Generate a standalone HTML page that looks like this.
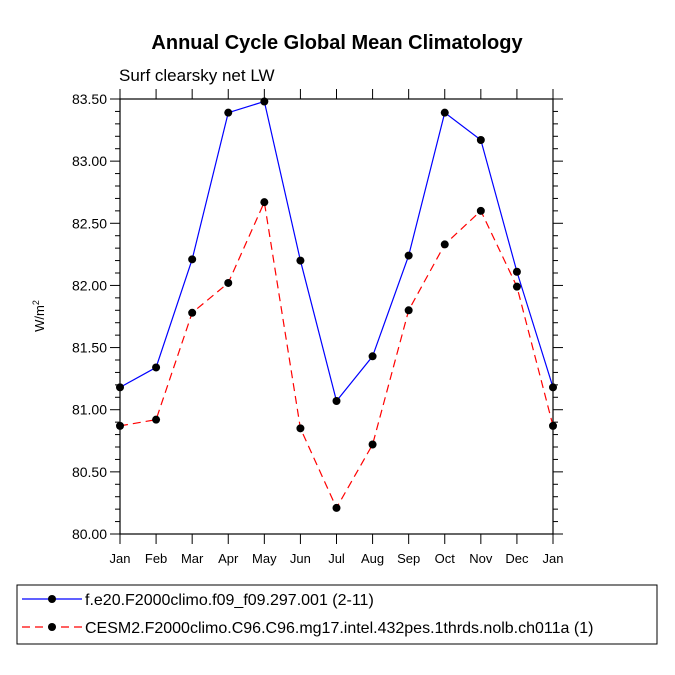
<!DOCTYPE html>
<html><head><meta charset="utf-8"><style>body{margin:0;background:#fff}svg{display:block}text{font-family:"Liberation Sans",Arial,sans-serif}</style></head>
<body>
<svg id="c" width="675" height="675">
<text x="337" y="49" text-anchor="middle" font-size="20" font-weight="bold">Annual Cycle Global Mean Climatology</text>
<text x="119" y="81" font-size="17">Surf clearsky net LW</text>
<text transform="translate(44,316) rotate(-90)" text-anchor="middle" font-size="13">W/m<tspan dy="-5" font-size="9">2</tspan></text>
<g id="axes"></g><g id="series"></g>
<rect x="17" y="585" width="640" height="59" fill="none" stroke="#000" stroke-width="1"/>
<g id="legend"></g>
</svg>
<script>
const months=["Jan","Feb","Mar","Apr","May","Jun","Jul","Aug","Sep","Oct","Nov","Dec","Jan"];
const seriesA=[81.18,81.34,82.21,83.39,83.48,82.20,81.07,81.43,82.24,83.39,83.17,82.11,81.18];
const seriesB=[80.87,80.92,81.78,82.02,82.67,80.85,80.21,80.72,81.80,82.33,82.60,81.99,80.87];
const yTicks=[80.00,80.50,81.00,81.50,82.00,82.50,83.00,83.50];
const legendLabels=["f.e20.F2000climo.f09_f09.297.001 (2-11)","CESM2.F2000climo.C96.C96.mg17.intel.432pes.1thrds.nolb.ch011a (1)"];
const L=120,R=553,T=99,B=534,ymin=80,ymax=83.5;
const xs=i=>L+i*(R-L)/12, ys=v=>B-(v-ymin)/(ymax-ymin)*(B-T);
const NS="http://www.w3.org/2000/svg";
function mk(t,a,p){const e=document.createElementNS(NS,t);for(const k in a)e.setAttribute(k,a[k]);p.appendChild(e);return e;}
const ax=document.getElementById('axes');
const frame=mk('rect',{x:L,y:T,width:R-L,height:B-T,fill:'none',stroke:'#000','stroke-width':1.2},ax);


yTicks.forEach(v=>{const y=ys(v);
mk('line',{x1:L,x2:L-10,y1:y,y2:y,stroke:'#000'},ax);mk('line',{x1:R,x2:R+10,y1:y,y2:y,stroke:'#000'},ax);
const t=mk('text',{x:L-13,y:y+5,'text-anchor':'end','font-size':14},ax);t.textContent=v.toFixed(2);

});
for(let i=0;i<yTicks.length-1;i++)for(let k=1;k<5;k++){const y=ys(yTicks[i]+k*0.1);mk('line',{x1:L,x2:L-5,y1:y,y2:y,stroke:'#000'},ax);mk('line',{x1:R,x2:R+5,y1:y,y2:y,stroke:'#000'},ax);}
months.forEach((m,i)=>{const x=xs(i);
mk('line',{x1:x,x2:x,y1:B,y2:B+10,stroke:'#000'},ax);mk('line',{x1:x,x2:x,y1:T,y2:T-10,stroke:'#000'},ax);
const t=mk('text',{x:x,y:B+29,'text-anchor':'middle','font-size':13},ax);t.textContent=m;

});
const sg=document.getElementById('series');
function draw(vals,color,dash,name){const g=mk('g',{},sg);


mk('polyline',{points:vals.map((v,i)=>xs(i)+','+ys(v)).join(' '),fill:'none',stroke:color,'stroke-width':1.2,'stroke-dasharray':dash},g);
vals.forEach((v,i)=>{const c=mk('circle',{cx:xs(i),cy:ys(v),r:4,fill:'#000'},g);

});}
draw(seriesA,'#0000ff','none','series-f-e20');
draw(seriesB,'#ff0000','8,5','series-cesm2');
const lg=document.getElementById('legend');
[['#0000ff','none'],['#ff0000','8,5']].forEach((s,i)=>{const y=599+i*28;
const g=mk('g',{},lg);


mk('line',{x1:22,x2:82,y1:y,y2:y,stroke:s[0],'stroke-width':1.2,'stroke-dasharray':s[1]},g);
mk('circle',{cx:52,cy:y,r:4,fill:'#000'},g);
const t=mk('text',{x:85,y:y+6,'font-size':16},g);t.textContent=legendLabels[i];});
</script>
</body></html>
